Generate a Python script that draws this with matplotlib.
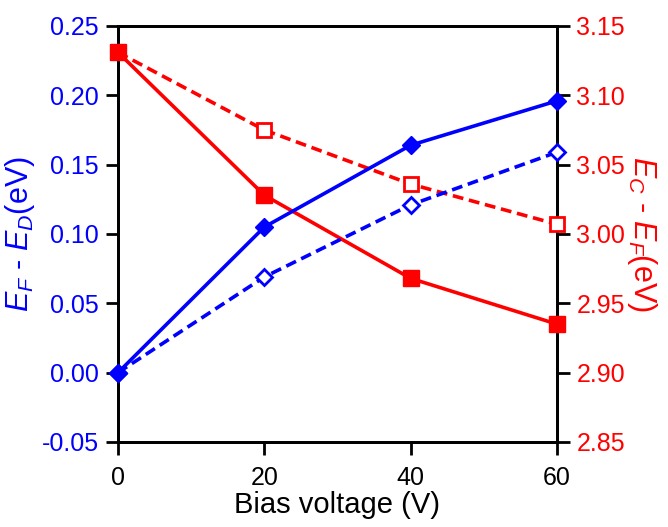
import matplotlib
matplotlib.use("Agg")
import matplotlib.pyplot as plt

plt.rcParams['font.family'] = ['Liberation Sans', 'DejaVu Sans']
plt.rcParams['mathtext.fontset'] = 'custom'
plt.rcParams['mathtext.rm'] = 'Liberation Sans'
plt.rcParams['mathtext.it'] = 'Liberation Sans:italic'
plt.rcParams['mathtext.bf'] = 'Liberation Sans:bold'

bias = [0, 20, 40, 60]
ef_ed_solid = [0.0, 0.105, 0.164, 0.196]
ef_ed_dashed = [0.0, 0.069, 0.121, 0.159]
ec_ef_solid = [3.131, 3.028, 2.968, 2.935]
ec_ef_dashed = [3.131, 3.075, 3.036, 3.007]
left_ticks = [-0.05, 0.00, 0.05, 0.10, 0.15, 0.20, 0.25]
right_ticks = [2.85, 2.90, 2.95, 3.00, 3.05, 3.10, 3.15]
x_ticks = [0, 20, 40, 60]

blue = '#0000ff'
red = '#ff0000'

fig = plt.figure(figsize=(6.68, 5.27), dpi=100)
ax = fig.add_axes([0.1766, 0.1613, 0.6572, 0.7894])
ax2 = ax.twinx()

lw = 2.6
dash = (0, (3.0, 1.6))
ax2.plot(bias, ec_ef_dashed, color=red, lw=lw, ls=dash, marker='s', ms=9.5,
         mfc='white', mec=red, mew=2.0, zorder=3, clip_on=False)
ax2.plot(bias, ec_ef_solid, color=red, lw=lw, marker='s', ms=11, mfc=red, mec=red, zorder=3, clip_on=False)
ax2.plot(bias, ef_ed_dashed, color=blue, lw=lw, ls=dash, marker='D', ms=8,
         mfc='white', mec=blue, mew=2.0, zorder=4, clip_on=False, transform=ax.transData)
ax2.plot(bias, ef_ed_solid, color=blue, lw=lw, marker='D', ms=9, mfc=blue, mec=blue, zorder=4,
         clip_on=False, transform=ax.transData)

ax.set_xlim(0, 60)
ax.set_ylim(-0.05, 0.25)
ax2.set_ylim(2.85, 3.15)
ax.set_xticks(x_ticks)
ax.set_yticks(left_ticks)
ax.set_yticklabels([f"{v:.2f}" for v in left_ticks])
ax2.set_yticks(right_ticks)
ax2.set_yticklabels([f"{v:.2f}" for v in right_ticks])

for a in (ax, ax2):
    for s in a.spines.values():
        s.set_linewidth(2.0)
        s.set_color('black')

ax.tick_params(axis='x', direction='out', length=9, width=2.0, labelsize=18, colors='black', pad=8)
ax.tick_params(axis='y', direction='out', length=9, width=2.0, labelsize=18, labelcolor=blue, pad=5)
ax2.tick_params(axis='y', direction='out', length=9, width=2.0, labelsize=18, labelcolor=red, pad=5)

ax.set_xlabel('Bias voltage (V)', fontsize=21, color='black', labelpad=1)
ax.set_ylabel(r'$E_F$ - $E_D$(eV)', fontsize=22, color=blue, labelpad=3)
ax2.set_ylabel(r'$E_C$ - $E_F$(eV)', fontsize=22, color=red, rotation=270, labelpad=24)

fig.savefig('out.png', dpi=100)
